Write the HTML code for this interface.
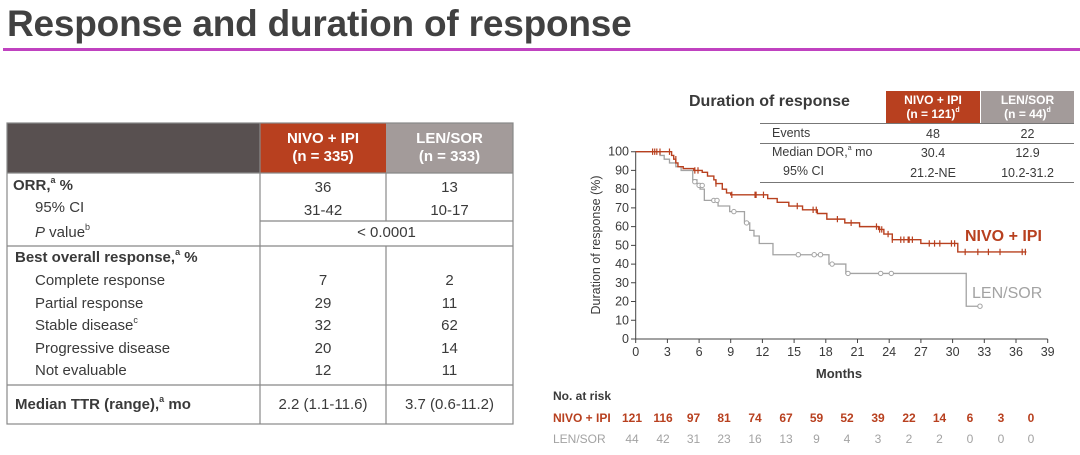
<!DOCTYPE html>
<html><head><meta charset="utf-8"><style>
body{margin:0;width:1080px;height:455px;background:#fff;font-family:"Liberation Sans","DejaVu Sans",sans-serif;color:#3a3a3a;position:relative;overflow:hidden}
.a{position:absolute;white-space:nowrap}
.t{font-size:15px;line-height:18px}
.c{text-align:center}
sup{font-size:9px;line-height:0;position:relative;top:-1px;vertical-align:super}
</style></head><body>
<div class="a" style="left:7px;top:3px;font-size:37px;font-weight:bold;color:#414141;letter-spacing:-0.2px">Response and duration of response</div>
<div class="a" style="left:3px;top:48px;width:1077px;height:3px;background:#c042c0"></div>

<div class="a" style="left:7px;top:123px;width:253px;height:50px;background:#585050"></div>
<div class="a" style="left:260px;top:123px;width:126px;height:50px;background:#b8401f;color:#fff;font-weight:bold;font-size:15px;line-height:18px;text-align:center;padding-top:7px;box-sizing:border-box">NIVO + IPI<br>(n = 335)</div>
<div class="a" style="left:386px;top:123px;width:127px;height:50px;background:#a39b9a;color:#fff;font-weight:bold;font-size:15px;line-height:18px;text-align:center;padding-top:7px;box-sizing:border-box">LEN/SOR<br>(n = 333)</div>
<svg class="a" style="left:0;top:0" width="540" height="440">
<g stroke="#888" stroke-width="1.2" fill="none">
<rect x="7" y="123" width="506" height="301"/>
<line x1="260" y1="123" x2="260" y2="424"/>
<line x1="386" y1="173" x2="386" y2="221"/>
<line x1="386" y1="246" x2="386" y2="424"/>
<line x1="7" y1="173" x2="513" y2="173"/>
<line x1="260" y1="221" x2="513" y2="221"/>
<line x1="7" y1="246" x2="513" y2="246"/>
<line x1="7" y1="385" x2="513" y2="385"/>
</g></svg>
<div class="a t" style="left:13px;top:177px;font-weight:bold">ORR,<sup>a</sup> %</div>
<div class="a t" style="left:35px;top:199px">95% CI</div>
<div class="a t" style="left:35px;top:224px"><i>P</i> value<sup>b</sup></div>
<div class="a t" style="left:15px;top:249px;font-weight:bold">Best overall response,<sup>a</sup> %</div>
<div class="a t" style="left:35px;top:272px">Complete response</div>
<div class="a t" style="left:35px;top:294.6px">Partial response</div>
<div class="a t" style="left:35px;top:317.2px">Stable disease<sup>c</sup></div>
<div class="a t" style="left:35px;top:339.8px">Progressive disease</div>
<div class="a t" style="left:35px;top:362.4px">Not evaluable</div>
<div class="a t" style="left:15px;top:396px;font-weight:bold">Median TTR (range),<sup>a</sup> mo</div>
<div class="a t c" style="left:260px;width:126px;top:177px;line-height:22.5px">36<br>31-42</div>
<div class="a t c" style="left:386px;width:127px;top:177px;line-height:22.5px">13<br>10-17</div>
<div class="a t c" style="left:260px;width:253px;top:224px">&lt; 0.0001</div>
<div class="a t c" style="left:260px;width:126px;top:270px;line-height:22.6px">7<br>29<br>32<br>20<br>12</div>
<div class="a t c" style="left:386px;width:127px;top:270px;line-height:22.6px">2<br>11<br>62<br>14<br>11</div>
<div class="a t c" style="left:260px;width:126px;top:396px">2.2 (1.1-11.6)</div>
<div class="a t c" style="left:386px;width:127px;top:396px">3.7 (0.6-11.2)</div>

<div class="a" style="left:689px;top:93px;font-size:16px;font-weight:bold">Duration of response</div>
<div class="a" style="left:886px;top:91px;width:94px;height:32px;background:#b8401f;color:#fff;font-size:12px;font-weight:bold;line-height:14px;text-align:center;padding-top:2px;box-sizing:border-box">NIVO + IPI<br>(n = 121)<sup style="font-size:7px">d</sup></div>
<div class="a" style="left:981px;top:91px;width:93px;height:32px;background:#a39b9a;color:#fff;font-size:12px;font-weight:bold;line-height:14px;text-align:center;padding-top:2px;box-sizing:border-box">LEN/SOR<br>(n = 44)<sup style="font-size:7px">d</sup></div>
<div class="a" style="left:760px;top:123px;width:314px;height:1px;background:#777"></div>
<div class="a" style="left:760px;top:143px;width:314px;height:1px;background:#777"></div>
<div class="a" style="left:760px;top:182px;width:314px;height:1px;background:#777"></div>
<div class="a" style="left:772px;top:126px;font-size:12.5px">Events</div>
<div class="a" style="left:772px;top:145px;font-size:12.5px">Median DOR,<sup style="font-size:7px">a</sup> mo</div>
<div class="a" style="left:783px;top:164px;font-size:12.5px">95% CI</div>
<div class="a c" style="left:886px;width:94px;top:125px;font-size:12.5px;line-height:19.3px">48<br>30.4<br>21.2-NE</div>
<div class="a c" style="left:981px;width:93px;top:125px;font-size:12.5px;line-height:19.3px">22<br>12.9<br>10.2-31.2</div>

<svg class="a" style="left:0;top:0" width="1080" height="455" font-family="Liberation Sans, sans-serif">
<g stroke="#444" stroke-width="1" fill="none">
<line x1="635.7" y1="151" x2="635.7" y2="339"/>
<line x1="635.7" y1="339" x2="1047.7" y2="339"/>
</g>
<g stroke="#444" stroke-width="1">
<path d="M631 339h5M631 320.3h5M631 301.5h5M631 282.8h5M631 264.1h5M631 245.4h5M631 226.6h5M631 207.9h5M631 189.2h5M631 170.4h5M631 151.7h5"/>
<path d="M635.7 339v4M667.4 339v4M699.1 339v4M730.7 339v4M762.4 339v4M794.1 339v4M825.8 339v4M857.5 339v4M889.2 339v4M920.9 339v4M952.6 339v4M984.3 339v4M1016 339v4M1047.7 339v4"/>
</g>
<g fill="#3a3a3a" font-size="12.5" text-anchor="end">
<text x="629" y="343">0</text><text x="629" y="324.3">10</text><text x="629" y="305.5">20</text><text x="629" y="286.8">30</text><text x="629" y="268.1">40</text><text x="629" y="249.4">50</text><text x="629" y="230.6">60</text><text x="629" y="211.9">70</text><text x="629" y="193.2">80</text><text x="629" y="174.4">90</text><text x="629" y="155.7">100</text>
</g>
<g fill="#3a3a3a" font-size="12.5" text-anchor="middle">
<text x="635.7" y="356">0</text><text x="667.4" y="356">3</text><text x="699.1" y="356">6</text><text x="730.7" y="356">9</text><text x="762.4" y="356">12</text><text x="794.1" y="356">15</text><text x="825.8" y="356">18</text><text x="857.5" y="356">21</text><text x="889.2" y="356">24</text><text x="920.9" y="356">27</text><text x="952.6" y="356">30</text><text x="984.3" y="356">33</text><text x="1016" y="356">36</text><text x="1047.7" y="356">39</text>
<text x="839" y="378" font-weight="bold" font-size="13">Months</text>
</g>
<text transform="translate(600,245) rotate(-90)" text-anchor="middle" font-size="12.5" fill="#3a3a3a">Duration of response (%)</text>
<g transform="translate(635.7,339) scale(10.56,-1.873)" fill="none">
<path vector-effect="non-scaling-stroke" stroke="#a3a3a3" stroke-width="1.3" d="M0,100 H2.3 V98 H2.7 V96 H3.2 V94 H3.8 V92 H4.3 V90 H5.4 V85 H5.8 V83 H6.1 V80 H6.5 V74 H7.8 V71 H8.9 V68 H10.3 V62 H10.8 V58 H11.2 V55 H11.7 V51 H13 V45 H18.3 V40 H19.9 V35 H31.3 V17.5 H32.6"/>
<path vector-effect="non-scaling-stroke" stroke="#b8401f" stroke-width="1.4" d="M0,100 H3.4 V98 H3.6 V96 H3.8 V94 H4.0 V92 H4.5 V91 H5.5 V90 H6.3 V89 H6.8 V87 H7.4 V85 H7.6 V83 H8.2 V80 H8.6 V78 H9.0 V77 H12.5 V75 H13.4 V73 H14.5 V71 H15.8 V69 H17.2 V67 H18.1 V64 H19.8 V62 H21.2 V60 H23.0 V58.5 H23.5 V56 H24.3 V53 H27 V51 H30.5 V46.5 H37"/>
<path vector-effect="non-scaling-stroke" stroke="#b8401f" stroke-width="1.2" d="M1.6,98.3v3.4M1.8,98.3v3.4M2.0,98.3v3.4M2.3,98.3v3.4M3.2,98.3v3.4M3.8,94.3v3.4M5.6,88.3v3.4M5.9,88.3v3.4M7.6,81.3v3.4M9.1,75.3v3.4M11.3,75.3v3.4M11.4,75.3v3.4M12.1,75.3v3.4M15.3,69.3v3.4M16.8,67.3v3.4M17.1,67.3v3.4M19.1,62.3v3.4M20.4,60.3v3.4M22.8,58.3v3.4M23.1,56.8v3.4M23.3,56.8v3.4M23.9,54.3v3.4M24.3,51.3v3.4M25.1,51.3v3.4M25.4,51.3v3.4M25.8,51.3v3.4M25.9,51.3v3.4M26.2,51.3v3.4M27.8,49.3v3.4M28.3,49.3v3.4M28.8,49.3v3.4M29.9,49.3v3.4M30.2,49.3v3.4M31.2,44.8v3.4M32.4,44.8v3.4M33.4,44.8v3.4M34.5,44.8v3.4M36.6,44.8v3.4M36.9,44.8v3.4"/>
</g>
<g fill="#fff" stroke="#a3a3a3" stroke-width="1">
<circle cx="694.8" cy="181.7" r="2.2"/><circle cx="699.1" cy="185.4" r="2.2"/><circle cx="702.2" cy="185.4" r="2.2"/><circle cx="713.8" cy="200.4" r="2.2"/><circle cx="717" cy="200.4" r="2.2"/><circle cx="733.9" cy="211.6" r="2.2"/><circle cx="746.6" cy="222.9" r="2.2"/><circle cx="798.3" cy="254.7" r="2.2"/><circle cx="814.2" cy="254.7" r="2.2"/><circle cx="820.5" cy="254.7" r="2.2"/><circle cx="832.1" cy="264.1" r="2.2"/><circle cx="848" cy="273.4" r="2.2"/><circle cx="880.7" cy="273.4" r="2.2"/><circle cx="891.3" cy="273.4" r="2.2"/><circle cx="980" cy="306.2" r="2.2"/>
</g>
<text x="965" y="241" font-size="16" font-weight="bold" fill="#b8401f">NIVO + IPI</text>
<text x="972" y="298" font-size="16" fill="#a3a3a3">LEN/SOR</text>
<text x="553" y="400" font-size="12" font-weight="bold" fill="#3a3a3a">No. at risk</text>
<text x="553" y="422" font-size="12" font-weight="bold" fill="#b8401f">NIVO + IPI</text>
<text x="553" y="443" font-size="12" fill="#a3a3a3">LEN/SOR</text>
<g font-size="12" text-anchor="middle" fill="#b8401f" font-weight="bold">
<text x="632" y="422">121</text><text x="663" y="422">116</text><text x="693.5" y="422">97</text><text x="724" y="422">81</text><text x="755" y="422">74</text><text x="786" y="422">67</text><text x="816.5" y="422">59</text><text x="847" y="422">52</text><text x="878" y="422">39</text><text x="909" y="422">22</text><text x="939.5" y="422">14</text><text x="970" y="422">6</text><text x="1001" y="422">3</text><text x="1031" y="422">0</text>
</g>
<g font-size="12" text-anchor="middle" fill="#a3a3a3">
<text x="632" y="443">44</text><text x="663" y="443">42</text><text x="693.5" y="443">31</text><text x="724" y="443">23</text><text x="755" y="443">16</text><text x="786" y="443">13</text><text x="816.5" y="443">9</text><text x="847" y="443">4</text><text x="878" y="443">3</text><text x="909" y="443">2</text><text x="939.5" y="443">2</text><text x="970" y="443">0</text><text x="1001" y="443">0</text><text x="1031" y="443">0</text>
</g>
</svg>
</body></html>
